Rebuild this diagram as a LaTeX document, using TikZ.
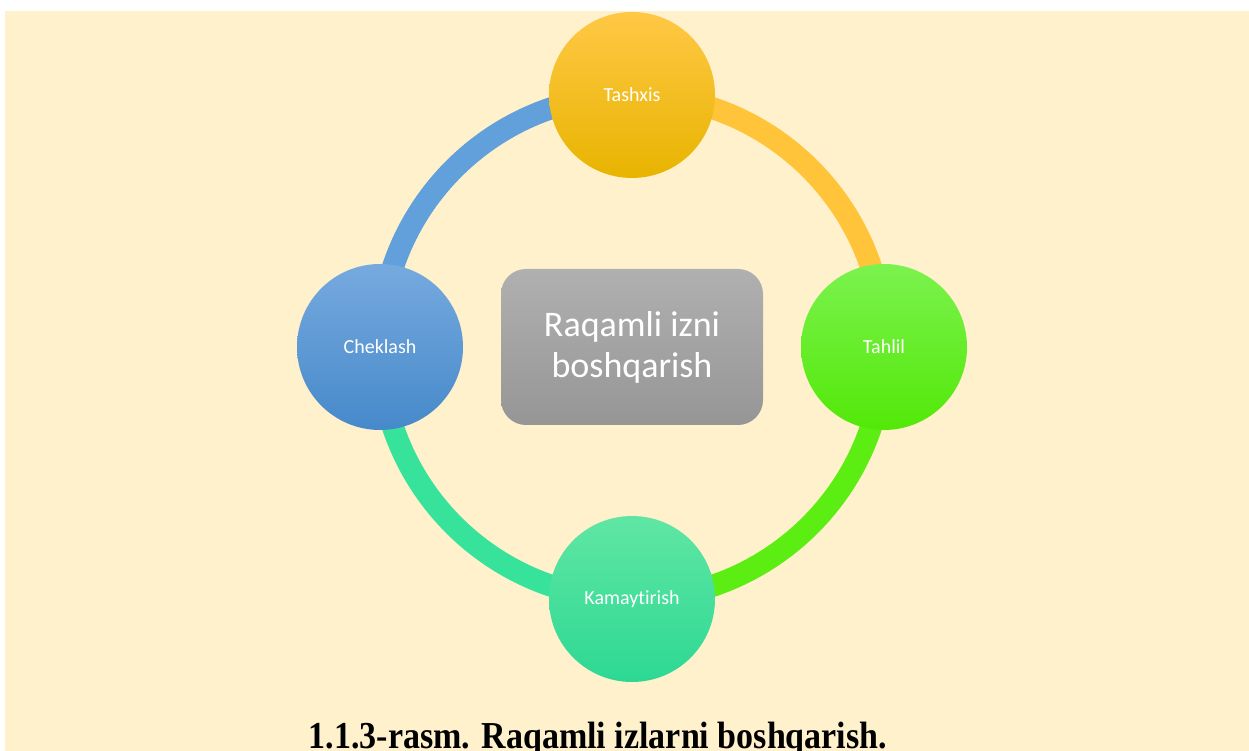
\documentclass[tikz,border=0pt]{standalone}
\usepackage{fontspec}
\setmainfont{Liberation Serif}
\newfontfamily\calibri[Ligatures={NoCommon}]{Carlito}
\usetikzlibrary{backgrounds}

\definecolor{cream}{HTML}{FFF1CC}
\definecolor{arcYellow}{HTML}{FFC43A}
\definecolor{arcGreen}{HTML}{5CEE12}
\definecolor{arcTeal}{HTML}{37E39B}
\definecolor{arcBlue}{HTML}{62A0DB}

\tikzset{
  stage/.style={circle, minimum size=166pt, inner sep=0pt, text=white, font=\calibri\fontsize{20}{24}\selectfont},
  ring/.style={line width=22pt},
}

\begin{document}
\begin{tikzpicture} [x=1pt, y=1pt]
\useasboundingbox (0,0) rectangle (1249,751);

\node[stage, top color={rgb,255:red,255;green,200;blue,70}, middle color={rgb,255:red,255;green,192;blue,0}, bottom color={rgb,255:red,232;green,180;blue,0}] (tashxis) at (632,656) {Tashxis};
\node[stage, top color={rgb,255:red,123;green,242;blue,78}, middle color={rgb,255:red,102;green,248;blue,28}, bottom color={rgb,255:red,83;green,232;blue,8}] (tahlil) at (884,404) {Tahlil};
\node[stage, top color={rgb,255:red,96;green,230;blue,164}, middle color={rgb,255:red,62;green,232;blue,156}, bottom color={rgb,255:red,45;green,216;blue,147}] (kamaytirish) at (632,152) {Kamaytirish};
\node[stage, top color={rgb,255:red,118;green,170;blue,223}, middle color={rgb,255:red,92;green,156;blue,216}, bottom color={rgb,255:red,70;green,137;blue,202}] (cheklash) at (380,404) {Cheklash};

\node[rounded corners=25pt, minimum width=262pt, minimum height=156pt, top color={rgb,255:red,176;green,176;blue,176}, bottom color={rgb,255:red,150;green,150;blue,150}, text=white, align=center, font=\calibri\fontsize{36}{41}\selectfont] (izni) at (632,404) {Raqamli izni\\boshqarish};

\node[anchor=base, font=\bfseries\fontsize{34}{40}\selectfont] (caption) at (598,2) {\scalebox{1}[1.12]{1.1.3-rasm. Raqamli izlarni boshqarish.}};

\begin{scope}[on background layer]
\fill[cream] (5,0) rectangle (1249,740);
\foreach \from/\a/\col in {cheklash/180/arcBlue, tashxis/90/arcYellow, tahlil/0/arcGreen, kamaytirish/-90/arcTeal}
  \draw[ring, \col] (\from.center) arc[start angle=\a, end angle=\a-90, radius=252];
\end{scope}

\end{tikzpicture}
\end{document}
